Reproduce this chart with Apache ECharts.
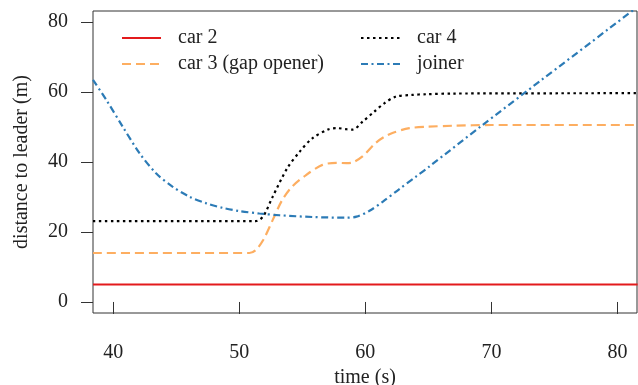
<!DOCTYPE html>
<html>
<head>
<meta charset="utf-8">
<script src="https://cdn.jsdelivr.net/npm/echarts@6/dist/echarts.min.js"></script>
<style>
  html, body { margin: 0; padding: 0; background: #fff; }
  #chart { width: 638px; height: 385px; }
</style>
</head>
<body>
<div id="chart"></div>
<script>
// values
var xTicks = [40, 50, 60, 70, 80];
var yTicks = [0, 20, 40, 60, 80];

var tCar2 = [38.4, 81.6];
var car2 = [5, 5];

var tCar3 = [38.4, 50.8, 51.3, 51.9, 52.65, 53.4, 54.2, 55.3, 56.6, 57.7, 58.5, 59.0, 59.8, 60.8, 61.5, 62.2, 63.5, 64.9, 67, 70, 81.6];
var car3 = [14, 14, 14.8, 17.7, 23.4, 29.1, 33, 36.3, 39.2, 39.8, 39.7, 39.9, 41.7, 45.4, 47.2, 48.4, 49.7, 50.1, 50.4, 50.6, 50.6];

var tCar4 = [38.4, 51.3, 51.9, 52.65, 53.8, 54.8, 55.8, 57.1, 57.8, 58.5, 59.0, 59.8, 60.7, 61.5, 62.4, 63.7, 64.8, 67, 81.6];
var car4 = [23.1, 23.1, 24.5, 30.1, 38.2, 43, 46.8, 49.4, 49.7, 49.4, 49.3, 51.6, 54.4, 56.8, 58.7, 59.2, 59.4, 59.6, 59.7];

var tJoiner = [38.4, 39.45, 40.76, 42.1, 43.4, 44.7, 46.05, 47.4, 48.7, 50, 51.6, 53.2, 55.8, 58.5, 59.3, 60.3, 61.4, 62.7, 64, 65.1, 69.3, 72.6, 81.6];
var joiner = [63.5, 57.8, 50.1, 42.5, 36.8, 33, 30.1, 28.2, 26.9, 26, 25.3, 24.8, 24.3, 24.1, 24.4, 26, 28.7, 32.3, 35.8, 38.8, 50.6, 59.7, 84.4];

function pairs(t, v) {
	var out = [];
	for (var i = 0; i < t.length; i++) out.push([t[i], v[i]]);
	return out;
}

var font = 'Liberation Serif';
var axisCol = '#333';
var txtCol = '#222';
var textStyle = { color: txtCol, fontFamily: font, fontSize: 20 };

function legendBox(left, names) {
	return {
		orient: 'vertical', left: left, top: 28, padding: 0,
		itemWidth: 39, itemHeight: 14, itemGap: 6,
		itemStyle: { opacity: 0 },
		textStyle: { color: txtCol, fontFamily: font, fontSize: 20, lineHeight: 18, padding: [0, 0, 0, 12] },
		data: names
	};
}

var option = {
	animation: false,
	backgroundColor: '#fff',
	grid: {
		left: 93, right: 1, top: 11, bottom: 72,
		show: true, borderColor: axisCol, borderWidth: 1,
		outerBoundsMode: 'none'
	},
	legend: [
		legendBox(121, ['car 2', 'car 3 (gap opener)']),
		legendBox(360, ['car 4', 'joiner'])
	],
	xAxis: {
		type: 'value',
		min: 38.4, max: 81.55,
		name: 'time (s)',
		nameLocation: 'middle',
		nameGap: 55,
		nameTextStyle: textStyle,
		axisLine: { show: false },
		axisTick: { show: true, length: 12, lineStyle: { color: axisCol }, customValues: xTicks },
		axisLabel: { margin: 30, color: txtCol, fontFamily: font, fontSize: 20, customValues: xTicks },
		splitLine: { show: false }
	},
	yAxis: {
		type: 'value',
		min: -3.15, max: 83.2,
		name: 'distance to leader (m)',
		nameLocation: 'middle',
		nameGap: 61,
		nameTextStyle: textStyle,
		axisLine: { show: false },
		axisTick: { show: true, length: 12, lineStyle: { color: axisCol }, customValues: yTicks },
		axisLabel: { margin: 25, color: txtCol, fontFamily: font, fontSize: 20, customValues: yTicks },
		splitLine: { show: false }
	},
	series: [
		{
			name: 'car 2', type: 'line', symbol: 'none',
			data: pairs(tCar2, car2),
			lineStyle: { color: '#e31a1c', width: 2.2 },
			itemStyle: { color: '#e31a1c' }
		},
		{
			name: 'car 3 (gap opener)', type: 'line', symbol: 'none', smooth: 0.3,
			data: pairs(tCar3, car3),
			lineStyle: { color: '#fdae61', width: 2.2, type: [9, 5] },
			itemStyle: { color: '#fdae61' }
		},
		{
			name: 'car 4', type: 'line', symbol: 'none', smooth: 0.3,
			data: pairs(tCar4, car4),
			lineStyle: { color: '#000', width: 2.2, type: [2.5, 3.5] },
			itemStyle: { color: '#000' }
		},
		{
			name: 'joiner', type: 'line', symbol: 'none', smooth: 0.3,
			data: pairs(tJoiner, joiner),
			lineStyle: { color: '#2c7bb6', width: 2.2, type: [7, 3.5, 2, 3.5] },
			itemStyle: { color: '#2c7bb6' }
		}
	]
};

var chart = echarts.init(document.getElementById('chart'));
chart.setOption(option);
</script>
</body>
</html>
